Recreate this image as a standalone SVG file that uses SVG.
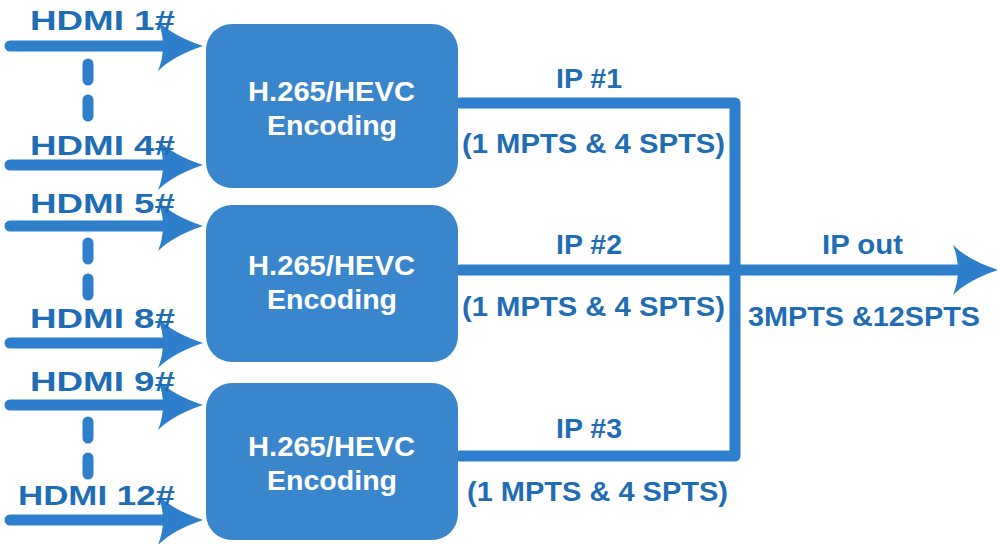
<svg xmlns="http://www.w3.org/2000/svg" width="1000" height="544" viewBox="0 0 1000 544">
<style>
.ln{stroke:#2d7fcb;stroke-width:11;stroke-linecap:round;fill:none}
.ah{fill:#2d7fcb}
.box{fill:#3a86cc}
.lb{font-family:"Liberation Sans",Arial,sans-serif;font-weight:bold;font-size:27px;fill:#1f6db4}
.bt{font-family:"Liberation Sans",Arial,sans-serif;font-weight:bold;font-size:27px;fill:#fff}
</style>
<defs>
<path id="head" d="M0,0 Q-30,-10 -45,-25 Q-35,0 -45,25 Q-30,10 0,0Z"/>
</defs>
<rect width="1000" height="544" fill="#fff"/>
<g id="connectors">
<g class="ln">
<path d="M10,46H180M10,165H180M10,226H180M10,343H180M10,405H180M10,520H180"/>
<path d="M88,64V80M88,100V116M88,243V259M88,279V295M88,422V438M88,458V474"/>
<path d="M460,103H735M460,270H735M460,456H735M735,103V456M735,270H975"/>
</g>
<g class="ah">
<use href="#head" x="203" y="46"/><use href="#head" x="203" y="165"/>
<use href="#head" x="203" y="226"/><use href="#head" x="203" y="343"/>
<use href="#head" x="203" y="405"/><use href="#head" x="203" y="520"/>
<use href="#head" x="998" y="270"/>
</g>
</g>
<g id="enc1"><rect class="box" x="206" y="24" width="252" height="164" rx="26"/><text class="bt" x="248" y="101" textLength="167" lengthAdjust="spacingAndGlyphs">H.265/HEVC</text><text class="bt" x="267" y="135" textLength="130" lengthAdjust="spacingAndGlyphs">Encoding</text></g>
<g id="enc2"><rect class="box" x="206" y="205" width="252" height="157" rx="26"/><text class="bt" x="248" y="275" textLength="167" lengthAdjust="spacingAndGlyphs">H.265/HEVC</text><text class="bt" x="267" y="309" textLength="130" lengthAdjust="spacingAndGlyphs">Encoding</text></g>
<g id="enc3"><rect class="box" x="206" y="383" width="252" height="157" rx="26"/><text class="bt" x="248" y="456" textLength="167" lengthAdjust="spacingAndGlyphs">H.265/HEVC</text><text class="bt" x="267" y="490" textLength="130" lengthAdjust="spacingAndGlyphs">Encoding</text></g>
<g id="labels">
<text class="lb" x="30" y="30" textLength="145" lengthAdjust="spacingAndGlyphs">HDMI 1#</text>
<text class="lb" x="30" y="155" textLength="145" lengthAdjust="spacingAndGlyphs">HDMI 4#</text>
<text class="lb" x="30" y="213" textLength="145" lengthAdjust="spacingAndGlyphs">HDMI 5#</text>
<text class="lb" x="30" y="328" textLength="145" lengthAdjust="spacingAndGlyphs">HDMI 8#</text>
<text class="lb" x="30" y="391" textLength="145" lengthAdjust="spacingAndGlyphs">HDMI 9#</text>
<text class="lb" x="18" y="505" textLength="157" lengthAdjust="spacingAndGlyphs">HDMI 12#</text>
<text class="lb" x="556" y="88" textLength="66" lengthAdjust="spacingAndGlyphs">IP #1</text>
<text class="lb" x="462" y="153" textLength="263" lengthAdjust="spacingAndGlyphs">(1 MPTS &amp; 4 SPTS)</text>
<text class="lb" x="556" y="254" textLength="66" lengthAdjust="spacingAndGlyphs">IP #2</text>
<text class="lb" x="462" y="316" textLength="263" lengthAdjust="spacingAndGlyphs">(1 MPTS &amp; 4 SPTS)</text>
<text class="lb" x="556" y="438" textLength="66" lengthAdjust="spacingAndGlyphs">IP #3</text>
<text class="lb" x="467" y="501" textLength="261" lengthAdjust="spacingAndGlyphs">(1 MPTS &amp; 4 SPTS)</text>
<text class="lb" x="822" y="254" textLength="81" lengthAdjust="spacingAndGlyphs">IP out</text>
<text class="lb" x="748" y="326" textLength="232" lengthAdjust="spacingAndGlyphs">3MPTS &amp;12SPTS</text>
</g>
</svg>
